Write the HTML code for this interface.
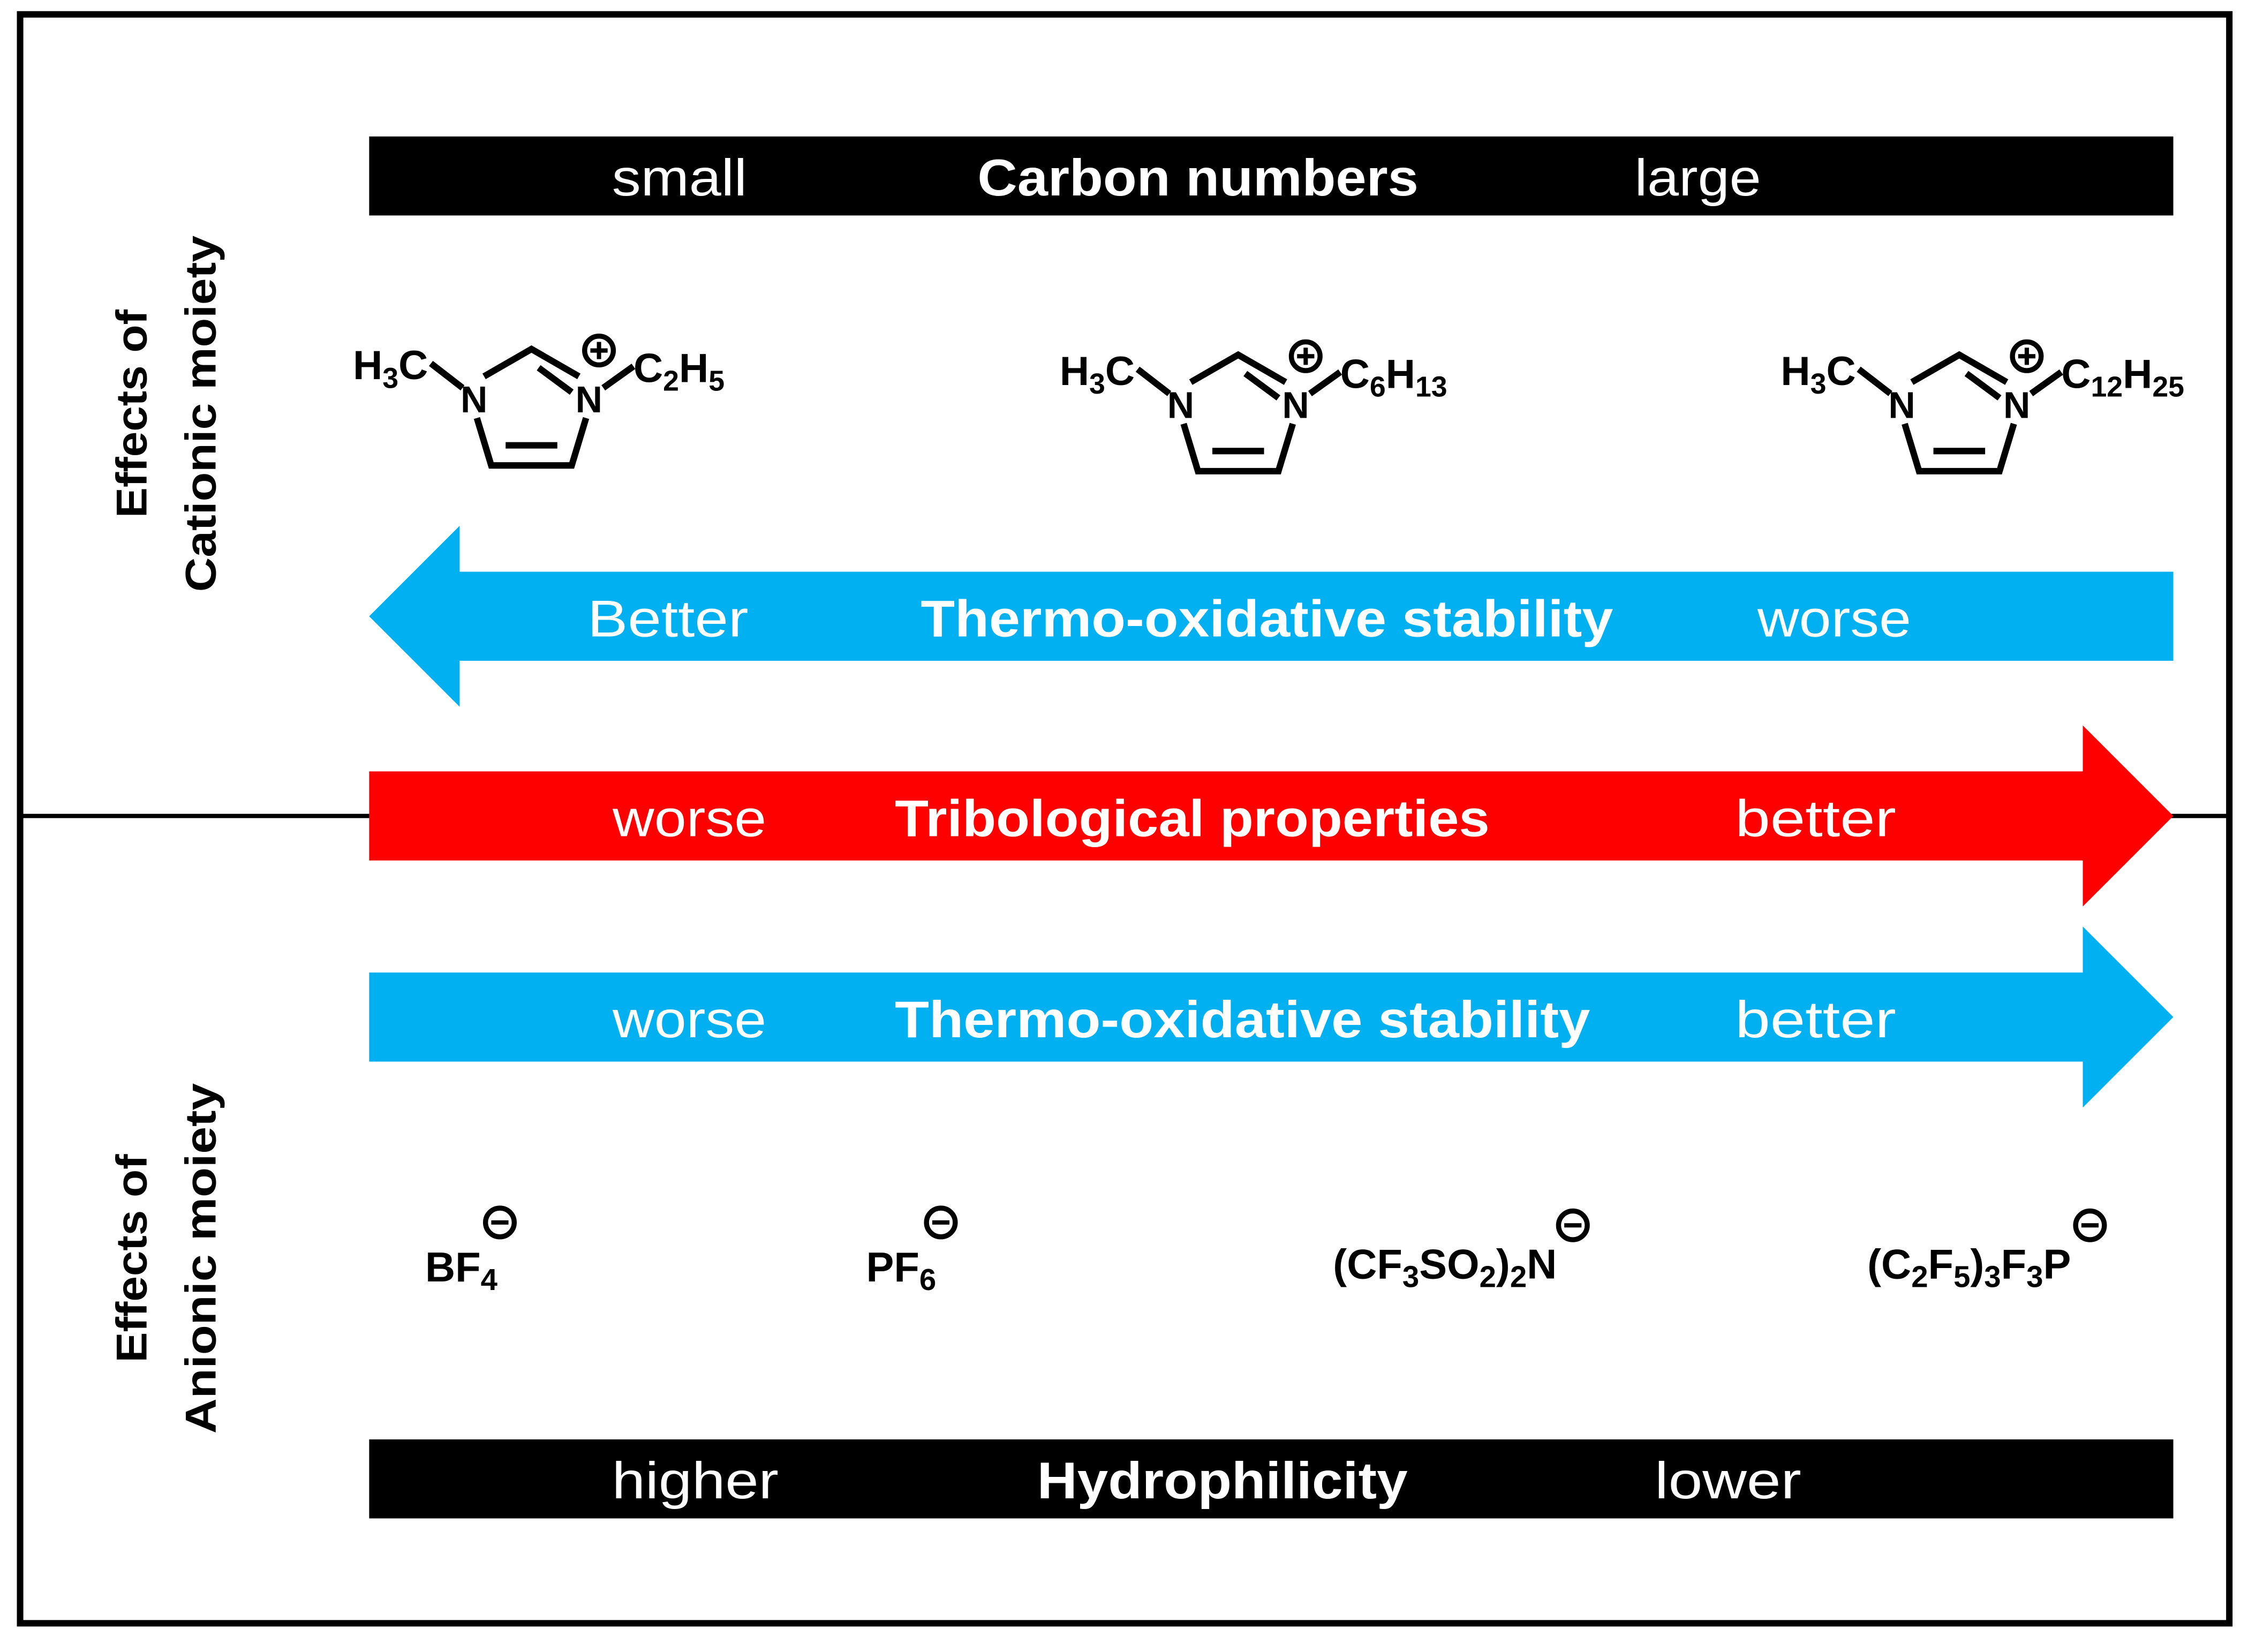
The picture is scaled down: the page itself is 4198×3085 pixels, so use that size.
<!DOCTYPE html>
<html><head><meta charset="utf-8"><style>
html,body{margin:0;padding:0;background:#fff;}
svg{display:block;}
text{font-family:"Liberation Sans",Arial,sans-serif;}
</style></head><body>
<svg width="4198" height="3085" viewBox="0 0 1565 1150" preserveAspectRatio="none" xmlns="http://www.w3.org/2000/svg">
<rect x="0" y="0" width="1565" height="1150" fill="#fff"/>
<rect x="14" y="10" width="1538" height="1120" fill="none" stroke="#000" stroke-width="4.5"/>
<line x1="14" y1="568" x2="1552" y2="568" stroke="#000" stroke-width="3"/>

<rect x="257" y="95" width="1256" height="55" fill="#000"/>
<text x="473" y="136" font-size="36" fill="#fff" text-anchor="middle" textLength="94" lengthAdjust="spacingAndGlyphs">small</text>
<text x="834" y="136" font-size="36" font-weight="bold" fill="#fff" text-anchor="middle" textLength="307" lengthAdjust="spacingAndGlyphs">Carbon numbers</text>
<text x="1182" y="136" font-size="36" fill="#fff" text-anchor="middle" textLength="88" lengthAdjust="spacingAndGlyphs">large</text>

<defs>
<g id="ring">
<g stroke="#000" stroke-width="4.5" fill="none" stroke-linecap="butt">
<polyline points="337,262 370,243 403,262"/>
<line x1="375" y1="256" x2="398" y2="273"/>
<polyline points="332,291 342,324 398,324 408,291"/>
<line x1="352" y1="310" x2="388" y2="310"/>
<line x1="300" y1="253" x2="322" y2="270"/>
<line x1="420" y1="270" x2="441" y2="255"/>
<circle cx="417" cy="244" r="10" stroke-width="3.5"/>
<line x1="411" y1="244" x2="423" y2="244" stroke-width="3"/>
<line x1="417" y1="238" x2="417" y2="250" stroke-width="3"/>
</g>
<text x="330" y="287" font-size="26" font-weight="bold" text-anchor="middle">N</text>
<text x="410" y="287" font-size="26" font-weight="bold" text-anchor="middle">N</text>
<text x="298" y="264" font-size="28.5" font-weight="bold" text-anchor="end">H<tspan font-size="20" dy="6">3</tspan><tspan dy="-6">C</tspan></text>
</g>
</defs>
<use href="#ring"/>
<text x="441" y="266" font-size="28.5" font-weight="bold">C<tspan font-size="20" dy="6">2</tspan><tspan dy="-6">H</tspan><tspan font-size="20" dy="6">5</tspan></text>
<use href="#ring" transform="translate(492,4)"/>
<text x="933" y="270" font-size="28.5" font-weight="bold">C<tspan font-size="20" dy="6">6</tspan><tspan dy="-6">H</tspan><tspan font-size="20" dy="6">13</tspan></text>
<use href="#ring" transform="translate(994,4)"/>
<text x="1435" y="270" font-size="28.5" font-weight="bold">C<tspan font-size="20" dy="6">12</tspan><tspan dy="-6">H</tspan><tspan font-size="20" dy="6">25</tspan></text>

<polygon points="257,429 320,366 320,398 1513,398 1513,460 320,460 320,492" fill="#00b0f0"/>
<text x="465" y="443" font-size="36" fill="#fff" text-anchor="middle" textLength="112" lengthAdjust="spacingAndGlyphs">Better</text>
<text x="882" y="443" font-size="36" font-weight="bold" fill="#fff" text-anchor="middle" textLength="482" lengthAdjust="spacingAndGlyphs">Thermo-oxidative stability</text>
<text x="1277" y="443" font-size="36" fill="#fff" text-anchor="middle" textLength="107" lengthAdjust="spacingAndGlyphs">worse</text>

<polygon points="257,537 1450,537 1450,505 1513,568 1450,631 1450,599 257,599" fill="#ff0000"/>
<text x="480" y="582" font-size="36" fill="#fff" text-anchor="middle" textLength="107" lengthAdjust="spacingAndGlyphs">worse</text>
<text x="830" y="582" font-size="36" font-weight="bold" fill="#fff" text-anchor="middle" textLength="414" lengthAdjust="spacingAndGlyphs">Tribological properties</text>
<text x="1264" y="582" font-size="36" fill="#fff" text-anchor="middle" textLength="112" lengthAdjust="spacingAndGlyphs">better</text>

<polygon points="257,677 1450,677 1450,645 1513,708 1450,771 1450,739 257,739" fill="#00b0f0"/>
<text x="480" y="722" font-size="36" fill="#fff" text-anchor="middle" textLength="107" lengthAdjust="spacingAndGlyphs">worse</text>
<text x="865" y="722" font-size="36" font-weight="bold" fill="#fff" text-anchor="middle" textLength="484" lengthAdjust="spacingAndGlyphs">Thermo-oxidative stability</text>
<text x="1264" y="722" font-size="36" fill="#fff" text-anchor="middle" textLength="112" lengthAdjust="spacingAndGlyphs">better</text>

<g font-size="29" font-weight="bold">
<text x="296" y="892">BF<tspan font-size="21" dy="6">4</tspan></text>
<text x="603" y="892">PF<tspan font-size="21" dy="6">6</tspan></text>
<text x="928" y="890">(CF<tspan font-size="21" dy="6">3</tspan><tspan dy="-6">SO</tspan><tspan font-size="21" dy="6">2</tspan><tspan dy="-6">)</tspan><tspan font-size="21" dy="6">2</tspan><tspan dy="-6">N</tspan></text>
<text x="1300" y="890">(C<tspan font-size="21" dy="6">2</tspan><tspan dy="-6">F</tspan><tspan font-size="21" dy="6">5</tspan><tspan dy="-6">)</tspan><tspan font-size="21" dy="6">3</tspan><tspan dy="-6">F</tspan><tspan font-size="21" dy="6">3</tspan><tspan dy="-6">P</tspan></text>
</g>
<g stroke="#000" fill="none" stroke-width="3.5">
<circle cx="348" cy="851" r="10"/><line x1="342" y1="851" x2="354" y2="851" stroke-width="3"/>
<circle cx="655" cy="851" r="10"/><line x1="649" y1="851" x2="661" y2="851" stroke-width="3"/>
<circle cx="1095" cy="853" r="10"/><line x1="1089" y1="853" x2="1101" y2="853" stroke-width="3"/>
<circle cx="1455" cy="853" r="10"/><line x1="1449" y1="853" x2="1461" y2="853" stroke-width="3"/>
</g>

<rect x="257" y="1002" width="1256" height="55" fill="#000"/>
<text x="484" y="1043" font-size="36" fill="#fff" text-anchor="middle" textLength="116" lengthAdjust="spacingAndGlyphs">higher</text>
<text x="851" y="1043" font-size="36" font-weight="bold" fill="#fff" text-anchor="middle" textLength="258" lengthAdjust="spacingAndGlyphs">Hydrophilicity</text>
<text x="1203" y="1043" font-size="36" fill="#fff" text-anchor="middle" textLength="102" lengthAdjust="spacingAndGlyphs">lower</text>

<g font-size="30" font-weight="bold" text-anchor="middle">
<text transform="translate(102,288) rotate(-90)" textLength="145" lengthAdjust="spacingAndGlyphs">Effects of</text>
<text transform="translate(150,288) rotate(-90)" textLength="248" lengthAdjust="spacingAndGlyphs">Cationic moiety</text>
<text transform="translate(102,876) rotate(-90)" textLength="145" lengthAdjust="spacingAndGlyphs">Effects of</text>
<text transform="translate(150,876) rotate(-90)" textLength="244" lengthAdjust="spacingAndGlyphs">Anionic moiety</text>
</g>
</svg>
</body></html>
